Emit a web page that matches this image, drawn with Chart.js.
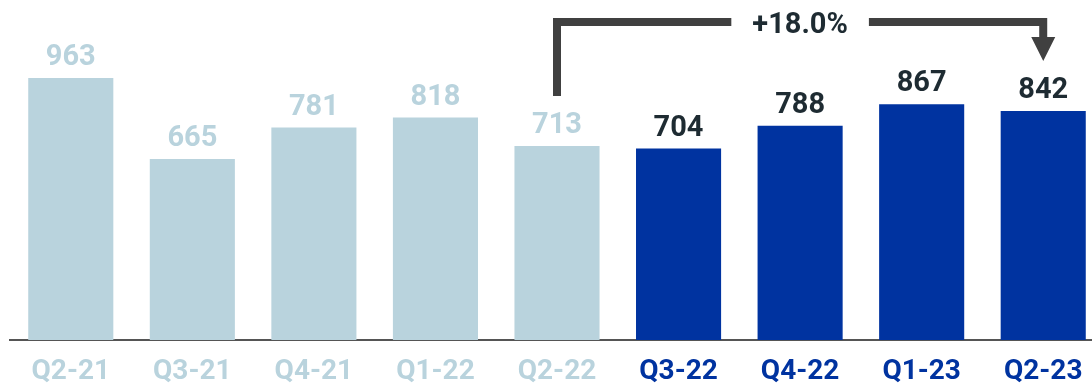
<!DOCTYPE html>
<html>
<head>
<meta charset="utf-8">
<script src="https://cdn.jsdelivr.net/npm/chart.js@4/dist/chart.umd.min.js"></script>
<style>
  html, body { margin: 0; padding: 0; background: #fff; overflow: hidden; }
  #wrap { width: 1104px; height: 384px; position: relative; }
</style>
</head>
<body>
<div id="wrap"><canvas id="c"></canvas></div>
<script>
const categories = ['Q2-21', 'Q3-21', 'Q4-21', 'Q1-22', 'Q2-22', 'Q3-22', 'Q4-22', 'Q1-23', 'Q2-23'];
const values = [963, 665, 781, 818, 713, 704, 788, 867, 842];
const isCurrent = [false, false, false, false, false, true, true, true, true];
const growthLabel = '+18.0%';
const growthFrom = 4;
const growthTo = 8;

const LIGHT = '#B9D3DD';
const DARK = '#0033A0';
const LABEL_DARK = '#1E2B32';
const BRACKET = '#404040';
const FONT = 'Roboto, "Liberation Sans", sans-serif';

const valueLabels = {
  id: 'valueLabels',
  afterDatasetsDraw(chart) {
    const ctx = chart.ctx;
    const meta = chart.getDatasetMeta(0);
    ctx.save();
    ctx.font = 'bold 29px ' + FONT;
    ctx.textAlign = 'center';
    ctx.textBaseline = 'alphabetic';
    meta.data.forEach((bar, i) => {
      ctx.fillStyle = isCurrent[i] ? LABEL_DARK : LIGHT;
      ctx.fillText(String(values[i]), bar.x, bar.y - 13);
    });
    ctx.restore();
  }
};

const bracket = {
  id: 'bracket',
  afterDatasetsDraw(chart) {
    const ctx = chart.ctx;
    const meta = chart.getDatasetMeta(0);
    const a = meta.data[growthFrom];
    const b = meta.data[growthTo];
    const yTop = 22;
    const yA = a.y - 50;
    const yTip = b.y - 50;
    const midX = (a.x + b.x) / 2;
    ctx.save();
    ctx.strokeStyle = BRACKET;
    ctx.fillStyle = BRACKET;
    ctx.lineWidth = 8;
    ctx.lineJoin = 'miter';
    ctx.lineCap = 'butt';
    ctx.font = 'bold 29px ' + FONT;
    const tw = ctx.measureText(growthLabel).width;
    const gap = tw / 2 + 21;
    ctx.beginPath();
    ctx.moveTo(a.x, yA);
    ctx.lineTo(a.x, yTop);
    ctx.lineTo(midX - gap, yTop);
    ctx.stroke();
    ctx.beginPath();
    ctx.moveTo(midX + gap, yTop);
    ctx.lineTo(b.x, yTop);
    ctx.lineTo(b.x, yTip - 23);
    ctx.stroke();
    ctx.beginPath();
    ctx.moveTo(b.x - 12, yTip - 24);
    ctx.lineTo(b.x + 12, yTip - 24);
    ctx.lineTo(b.x, yTip);
    ctx.closePath();
    ctx.fill();
    ctx.fillStyle = LABEL_DARK;
    ctx.textAlign = 'center';
    ctx.textBaseline = 'alphabetic';
    ctx.fillText(growthLabel, midX, 33);
    ctx.restore();
  }
};

new Chart(document.getElementById('c'), {
  type: 'bar',
  data: {
    labels: categories,
    datasets: [{
      data: values,
      backgroundColor: isCurrent.map(c => c ? DARK : LIGHT),
      borderWidth: 0,
      categoryPercentage: 0.7,
      barPercentage: 1.0
    }]
  },
  options: {
    responsive: true,
    maintainAspectRatio: false,
    animation: false,
    layout: { padding: { left: 10, right: 0, top: 0, bottom: 0 } },
    plugins: {
      legend: { display: false },
      tooltip: { enabled: false },
      title: { display: false }
    },
    scales: {
      x: {
        offset: true,
        afterFit(scale) { scale.height = 44; },
        grid: { display: false, drawTicks: false },
        border: { display: true, color: '#555555', width: 2 },
        ticks: {
          padding: 18,
          autoSkip: false,
          maxRotation: 0,
          font: { family: FONT, size: 28, weight: 'bold', lineHeight: 1 },
          color: isCurrent.map(c => c ? DARK : LIGHT)
        }
      },
      y: {
        display: false,
        min: 0,
        max: 1250
      }
    }
  },
  plugins: [valueLabels, bracket]
});
</script>
</body>
</html>
